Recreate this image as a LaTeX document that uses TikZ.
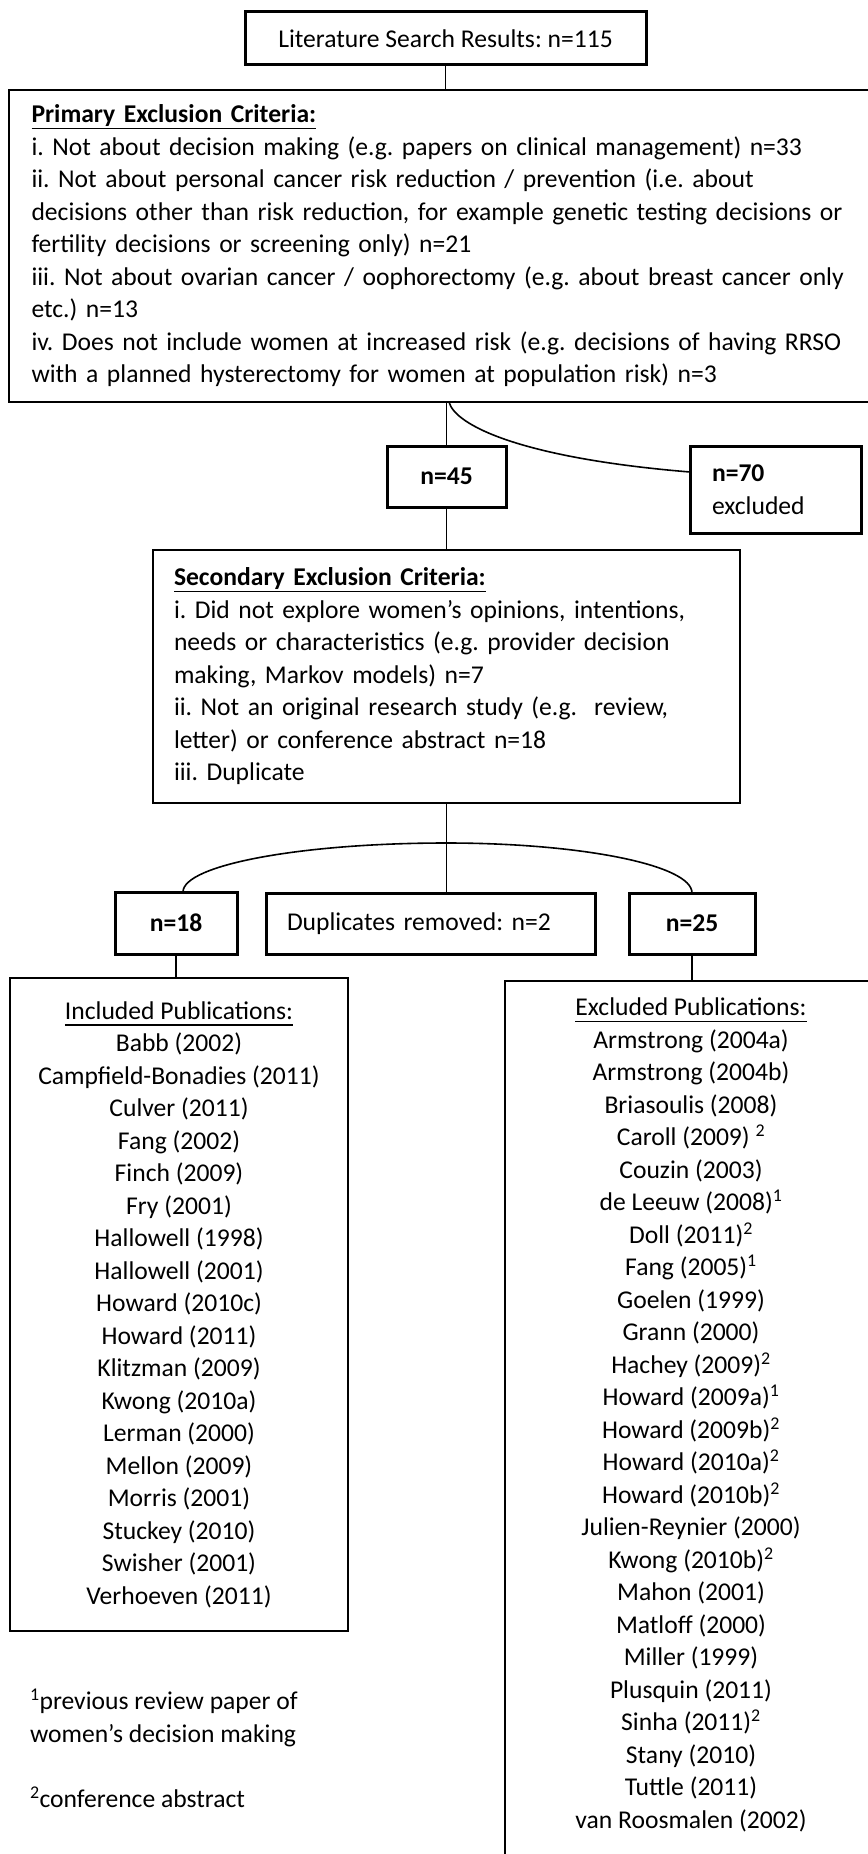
\documentclass[tikz,border=0pt]{standalone}
\usepackage{fontspec}
\setmainfont{Carlito}
\newcommand\myul[1]{\setbox0=\hbox{#1}\rlap{\rule[-6.5pt]{\wd0}{1.8pt}}\box0}
\newcommand\fsz{\fontsize{25.6}{32.5}\selectfont\frenchspacing}
\begin{document}
\begin{tikzpicture}[x=1pt,y=-1pt,
  every node/.style={font=\fsz,inner sep=0pt,outer sep=0pt,anchor=north west},
  thickbox/.style={draw,line width=3pt},
  thinbox/.style={draw,line width=2pt},
  conn/.style={line width=1.6pt}]
\useasboundingbox (0,0) rectangle (867,1854);
\fill[white] (0,0) rectangle (867,1854);

\node[thickbox,minimum width=401pt,minimum height=53pt] (top) at (245,12) {Literature Search Results: n=115};

\node[thinbox,minimum width=900pt,minimum height=312pt,text width=855pt,inner xsep=22.5pt,align=left] (big) at (9,90) {%
\textbf{\myul{Primary Exclusion Criteria:}}\\
i. Not about decision making (e.g. papers on clinical management) n=33\\
ii. Not about personal cancer risk reduction / prevention (i.e. about\\
decisions other than risk reduction, for example genetic testing decisions or\\
fertility decisions or screening only) n=21\\
iii. Not about ovarian cancer / oophorectomy (e.g. about breast cancer only\\
etc.) n=13\\
iv. Does not include women at increased risk (e.g. decisions of having RRSO\\
with a planned hysterectomy for women at population risk) n=3};

\node[thickbox,minimum width=119pt,minimum height=61pt] (n45) at (387,446) {\textbf{n=45}};
\node[thickbox,minimum width=171pt,minimum height=87pt,text width=127pt,inner xsep=22pt,align=left] (n70) at (690,446) {\textbf{n=70}\\excluded};

\node[thinbox,minimum width=587pt,minimum height=253pt,text width=545pt,inner xsep=21pt,align=left] (sec) at (153,550) {%
\textbf{\myul{Secondary Exclusion Criteria:}}\\
i. Did not explore women’s opinions, intentions,\\
needs or characteristics (e.g. provider decision\\
making, Markov models) n=7\\
ii. Not an original research study (e.g.\ \ review,\\
letter) or conference abstract n=18\\
iii. Duplicate};

\node[thickbox,minimum width=122pt,minimum height=62pt] (n18) at (115,892) {\textbf{n=18}};
\node[thickbox,minimum width=329pt,minimum height=61pt,text width=287pt,inner xsep=21pt,align=left] (dup) at (266,893) {Duplicates removed: n=2};
\node[thickbox,minimum width=126pt,minimum height=61pt] (n25) at (629,893) {\textbf{n=25}};

\node[thinbox,minimum width=338pt,minimum height=653pt,align=center] (incl) at (10,978) {%
\myul{Included Publications:}\\
Babb (2002)\\
Campfield-Bonadies (2011)\\
Culver (2011)\\
Fang (2002)\\
Finch (2009)\\
Fry (2001)\\
Hallowell (1998)\\
Hallowell (2001)\\
Howard (2010c)\\
Howard (2011)\\
Klitzman (2009)\\
Kwong (2010a)\\
Lerman (2000)\\
Mellon (2009)\\
Morris (2001)\\
Stuckey (2010)\\
Swisher (2001)\\
Verhoeven (2011)};

\node[thinbox,minimum width=372pt,minimum height=890pt] (excl) at (505,981) {};
\node[anchor=center,align=center] (excllist) at (691,1415) {%
\myul{Excluded Publications:}\\
Armstrong (2004a)\\
Armstrong (2004b)\\
Briasoulis (2008)\\
Caroll (2009) \textsuperscript{2}\\
Couzin (2003)\\
de Leeuw (2008)\textsuperscript{1}\\
Doll (2011)\textsuperscript{2}\\
Fang (2005)\textsuperscript{1}\\
Goelen (1999)\\
Grann (2000)\\
Hachey (2009)\textsuperscript{2}\\
Howard (2009a)\textsuperscript{1}\\
Howard (2009b)\textsuperscript{2}\\
Howard (2010a)\textsuperscript{2}\\
Howard (2010b)\textsuperscript{2}\\
Julien-Reynier (2000)\\
Kwong (2010b)\textsuperscript{2}\\
Mahon (2001)\\
Matloff (2000)\\
Miller (1999)\\
Plusquin (2011)\\
Sinha (2011)\textsuperscript{2}\\
Stany (2010)\\
Tuttle (2011)\\
van Roosmalen (2002)};

\node[anchor=west,align=left] (notes) at (30,1748.5) {%
\textsuperscript{1}previous review paper of\\
women’s decision making\\[32.5pt]
\textsuperscript{2}conference abstract};

\coordinate (arctop) at (446.5,843);
\draw[conn] (top.south) -- (top.south |- big.north);
\draw[conn] (n45.north |- big.south) -- (n45.north);
\draw[conn] ([xshift=2.5pt]n45.north |- big.south) .. controls (455,425) and (520,458) .. ([yshift=17.5pt]n70.west);
\draw[conn] (n45.south) -- (sec.north);
\draw[conn] (sec.south) -- (sec.south |- dup.north);
\draw[conn] ([xshift=7pt]n18.north) .. controls (183,865) and (301,843) .. (arctop) .. controls (581,843) and (692,865) .. (n25.north);
\draw[conn] (n18.south) -- (n18.south |- incl.north);
\draw[conn] (n25.south) -- (n25.south |- excl.north);
\end{tikzpicture}
\end{document}
